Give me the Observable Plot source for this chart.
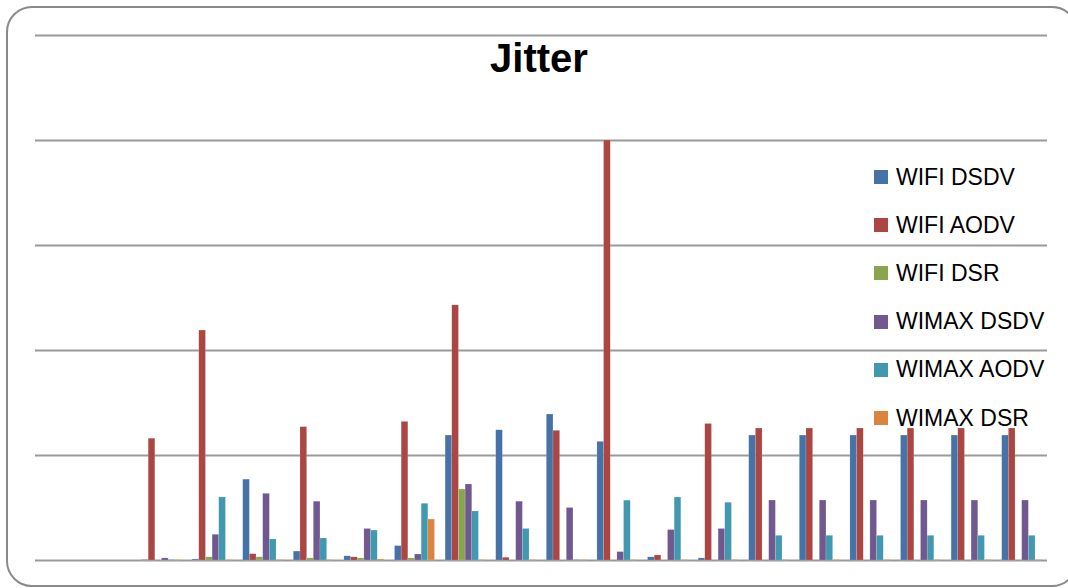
<!DOCTYPE html>
<html>
<head>
<meta charset="utf-8">
<script src="https://cdn.jsdelivr.net/npm/d3@7"></script>
<script src="https://cdn.jsdelivr.net/npm/@observablehq/plot@0.6"></script>
<style>
  html, body { margin: 0; padding: 0; background: #fff; }
  #wrap { position: relative; width: 1068px; height: 588px; overflow: hidden; font-family: "Liberation Sans", Arial, sans-serif; }
  #frame { position: absolute; left: 6px; top: 6px; width: 1072px; height: 581px; border: 2px solid #8a8a8a; border-radius: 26px; box-sizing: border-box; }
  #grid, #chart { position: absolute; left: 0; top: 0; }
  #title { position: absolute; left: 0; width: 1078px; top: 38px; text-align: center; font-weight: bold; font-size: 40px; line-height: 40px; color: #000; }
  #legend { position: absolute; left: 874px; top: 153px; }
  .item { display: flex; align-items: center; height: 48.2px; font-size: 23px; color: #000; }
  .sw { width: 14px; height: 14px; margin-right: 8px; }
</style>
</head>
<body>
<div id="wrap">
  <div id="frame"></div>
  <div id="grid"></div>
  <div id="chart"></div>
  <div id="title">Jitter</div>
  <div id="legend"></div>
</div>
<script>
const categories = ["1","2","3","4","5","6","7","8","9","10","11","12","13","14","15","16","17","18","19","20"];
const seriesNames = ["WIFI DSDV","WIFI AODV","WIFI DSR","WIMAX DSDV","WIMAX AODV","WIMAX DSR"];
const seriesColors = ["#4572A7","#AA4643","#89A54E","#71588F","#4198AF","#DB843D"];
const gridTicks = [0, 1, 2, 3, 4, 5];

const wifiDSDV  = [0, 0, 0.005, 0.01, 0.77, 0.085, 0.04, 0.137, 1.19, 1.24, 1.39, 1.13, 0.03, 0.02, 1.19, 1.19, 1.19, 1.19, 1.19, 1.19];
const wifiAODV  = [0, 0, 1.16, 2.19, 0.06, 1.27, 0.03, 1.32, 2.43, 0.026, 1.235, 4.0, 0.048, 1.30, 1.257, 1.257, 1.257, 1.257, 1.257, 1.257];
const wifiDSR   = [0, 0, 0, 0.03, 0.03, 0.02, 0.02, 0.02, 0.676, 0, 0, 0, 0, 0, 0, 0, 0, 0, 0, 0];
const wimaxDSDV = [0, 0, 0.02, 0.245, 0.635, 0.56, 0.30, 0.057, 0.724, 0.56, 0.50, 0.08, 0.29, 0.30, 0.571, 0.571, 0.571, 0.571, 0.571, 0.571];
const wimaxAODV = [0, 0, 0.005, 0.60, 0.20, 0.21, 0.285, 0.54, 0.467, 0.30, 0.005, 0.57, 0.60, 0.55, 0.235, 0.235, 0.235, 0.235, 0.235, 0.235];
const wimaxDSR  = [0, 0, 0.005, 0.005, 0.005, 0.005, 0.01, 0.39, 0.005, 0.005, 0.005, 0.005, 0.005, 0.005, 0.005, 0.005, 0.005, 0.005, 0.005, 0.005];

const seriesValues = [wifiDSDV, wifiAODV, wifiDSR, wimaxDSDV, wimaxAODV, wimaxDSR];
const data = [];
categories.forEach((c, i) => {
  seriesNames.forEach((s, j) => {
    data.push({cat: c, series: s, value: seriesValues[j][i]});
  });
});

const grid = Plot.plot({
  width: 1068,
  height: 588,
  marginLeft: 35,
  marginRight: 21,
  marginTop: 35,
  marginBottom: 28,
  style: {background: "transparent"},
  x: {domain: [0, 1], axis: null},
  y: {domain: [0, 5], axis: null},
  marks: [
    Plot.ruleY(gridTicks, {stroke: "#9a9a9a", strokeWidth: 2})
  ]
});
document.getElementById("grid").appendChild(grid);

const plot = Plot.plot({
  width: 1068,
  height: 588,
  marginLeft: 35,
  marginRight: 21,
  marginTop: 35,
  marginBottom: 28,
  style: {background: "transparent"},
  fx: {domain: categories, paddingInner: 0.21, paddingOuter: 0.105, round: false, axis: null},
  x: {domain: seriesNames, padding: 0, round: false, axis: null},
  y: {domain: [0, 5], axis: null},
  color: {domain: seriesNames, range: seriesColors},
  marks: [
    Plot.barY(data, {fx: "cat", x: "series", y: "value", fill: "series", inset: 0, stroke: "#ffffff", strokeOpacity: 0.3, strokeWidth: 0.5})
  ]
});
document.getElementById("chart").appendChild(plot);

const legend = document.getElementById("legend");
seriesNames.forEach((s, j) => {
  const row = document.createElement("div");
  row.className = "item";
  const sw = document.createElement("div");
  sw.className = "sw";
  sw.style.background = seriesColors[j];
  const t = document.createElement("span");
  t.textContent = s;
  row.appendChild(sw);
  row.appendChild(t);
  legend.appendChild(row);
});
</script>
</body>
</html>
